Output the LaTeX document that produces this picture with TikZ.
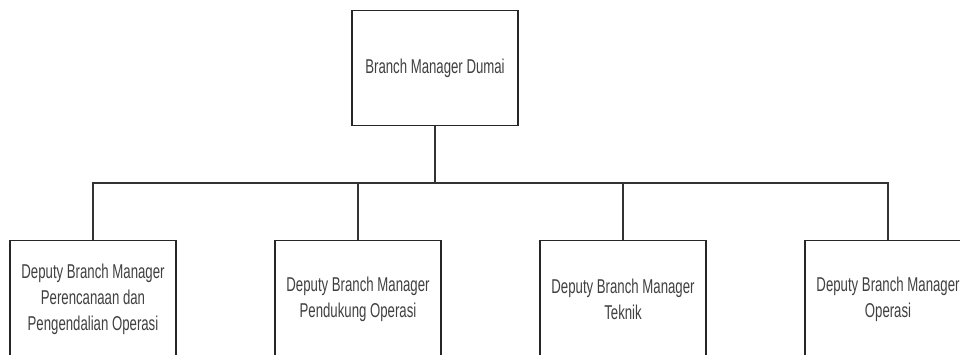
\documentclass[tikz,border=0pt]{standalone}
\usepackage{fontspec}
\setmainfont{Liberation Sans}[FakeStretch=0.66]
\begin{document}
\begin{tikzpicture}[x=1pt,y=-1pt,
  orgbox/.style={draw=black!85, line width=1.2pt, fill=white, minimum width=166pt, minimum height=115pt, inner sep=0pt, align=center, text=black!75, font=\fontsize{20}{26}\selectfont, anchor=north},
  link/.style={draw=black!80, line width=1.2pt}]
\useasboundingbox (0,0) rectangle (960,354);
\clip (0,0) rectangle (960,354);
\node[orgbox] (top) at (435,10) {Branch Manager Dumai};
\node[orgbox, minimum height=118pt] (c1) at (93,240) {Deputy Branch Manager\\Perencanaan dan\\Pengendalian Operasi};
\node[orgbox, minimum height=118pt] (c2) at (358,240) {Deputy Branch Manager\\Pendukung Operasi};
\node[orgbox, minimum height=118pt] (c3) at (623,240) {Deputy Branch Manager\\Teknik};
\node[orgbox, minimum height=118pt] (c4) at (888,240) {Deputy Branch Manager\\Operasi};
\coordinate (bus) at (435,183);
\draw[link] (top.south) -- (bus);
\draw[link] (c1.north) -- (c1.north |- bus) -- (c4.north |- bus) -- (c4.north);
\draw[link] (c2.north) -- (c2.north |- bus);
\draw[link] (c3.north) -- (c3.north |- bus);
\end{tikzpicture}
\end{document}
